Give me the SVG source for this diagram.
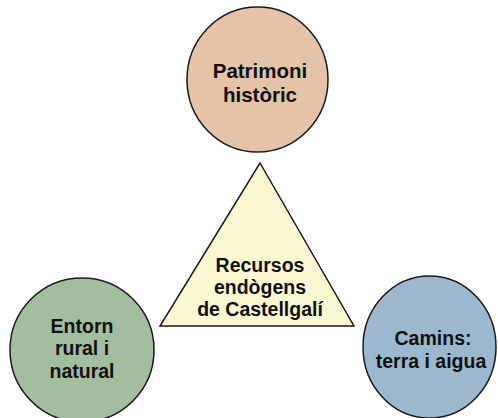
<svg xmlns="http://www.w3.org/2000/svg" width="498" height="418" viewBox="0 0 498 418">
<style>
.shape{stroke:#1a1a1a;stroke-width:1.5}
.t{font-family:"Liberation Sans",Arial,Helvetica,sans-serif;font-weight:bold;font-size:19.5px;fill:#111;text-anchor:middle}
.big{font-size:20.5px}
</style>
<rect width="498" height="418" fill="#ffffff"/>
<g id="connectors"></g>
<g id="node-patrimoni">
<ellipse class="shape" cx="257.5" cy="79.5" rx="70.5" ry="72.5" fill="#E5C3A8"/>
<text class="t big" x="260" y="78">Patrimoni</text>
<text class="t big" x="260" y="102">històric</text>
</g>
<g id="node-recursos">
<polygon class="shape" points="260,163 354,326 160,326" fill="#FAF8D2"/>
<text class="t" x="260" y="272">Recursos</text>
<text class="t" x="260" y="294">endògens</text>
<text class="t" x="260" y="316">de Castellgalí</text>
</g>
<g id="node-entorn">
<ellipse class="shape" cx="82" cy="350" rx="72" ry="72" fill="#A3BDA0"/>
<text class="t" x="82" y="333">Entorn</text>
<text class="t" x="82" y="355">rural i</text>
<text class="t" x="82" y="378">natural</text>
</g>
<g id="node-camins">
<ellipse class="shape" cx="429.5" cy="347" rx="66.5" ry="71" fill="#9BB8CF"/>
<text class="t" x="433" y="345">Camins:</text>
<text class="t" x="431" y="368">terra i aigua</text>
</g>
</svg>
